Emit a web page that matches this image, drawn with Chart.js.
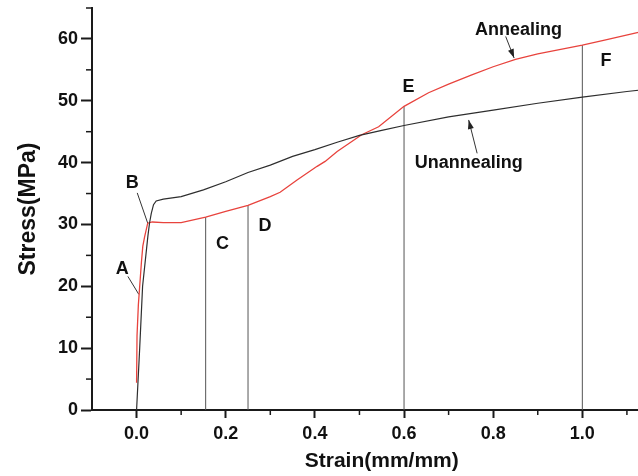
<!DOCTYPE html>
<html>
<head>
<meta charset="utf-8">
<script src="https://cdn.jsdelivr.net/npm/chart.js@4.4.1/dist/chart.umd.min.js"></script>
<style>
    html, body { margin: 0; padding: 0; background: #fff; overflow: hidden; }
    #wrap { width: 689px; height: 476px; }
</style>
</head>
<body>
<div id="wrap"><canvas id="stressChart" width="689" height="476"></canvas></div>
<script>
// ─── Data ────────────────────────────────────────────────
const unannealStrain = [0, 0.007, 0.0135, 0.0255, 0.029, 0.033, 0.038, 0.044, 0.06, 0.1, 0.15, 0.2, 0.25, 0.3, 0.35, 0.4, 0.45, 0.5, 0.55, 0.6, 0.7, 0.8, 0.9, 1.0, 1.1, 1.2];
const unannealStress = [0, 10, 20, 28.2, 30.2, 31.8, 33.2, 33.8, 34.1, 34.5, 35.6, 36.9, 38.4, 39.6, 41.0, 42.1, 43.3, 44.4, 45.2, 46.0, 47.4, 48.5, 49.6, 50.6, 51.5, 52.3];

const annealStrain = [0, 0.001, 0.004, 0.007, 0.011, 0.014, 0.018, 0.025, 0.035, 0.06, 0.1, 0.155, 0.2, 0.25, 0.3, 0.322, 0.36, 0.405, 0.423, 0.45, 0.505, 0.543, 0.6, 0.655, 0.7, 0.752, 0.8, 0.85, 0.9, 1.0, 1.05, 1.128, 1.2];
const annealStress = [4.4, 12, 17, 20, 24, 26.5, 28, 30.2, 30.4, 30.3, 30.3, 31.2, 32.1, 33.1, 34.5, 35.2, 37.2, 39.4, 40.2, 41.8, 44.5, 45.8, 49.1, 51.3, 52.7, 54.2, 55.5, 56.7, 57.6, 59.0, 59.8, 61.1, 62.2];

// vertical guide lines C, D, E, F
const guideStrain = [0.155, 0.25, 0.6, 1.0];
const guideStress = [31.2, 33.1, 49.1, 59.0];

// text labels
const labelText = ['A', 'B', 'C', 'D', 'E', 'F', 'Annealing', 'Unannealing'];
const labelStrain = [-0.032, -0.0097, 0.193, 0.288, 0.610, 1.053, 0.857, 0.745];
const labelStress = [22.8, 36.7, 26.8, 29.7, 52.3, 56.4, 61.5, 39.9];

// pointer lines (A, B) and arrows (Annealing, Unannealing)
const pointerFrom = [[-0.0195, 21.6], [0.0015, 35.1]];
const pointerTo = [[0.005, 18.7], [0.025, 30.2]];
const arrowFrom = [[0.828, 60.4], [0.764, 41.5]];
const arrowTo = [[0.847, 56.9], [0.745, 46.9]];

// axis ticks
const xTicks = [0, 0.2, 0.4, 0.6, 0.8, 1.0, 1.2];
const xMinor = [0.1, 0.3, 0.5, 0.7, 0.9, 1.1];
const yTicks = [0, 10, 20, 30, 40, 50, 60];
const yMinor = [5, 15, 25, 35, 45, 55, 65];

// ─── Style ───────────────────────────────────────────────
const FONT = "'Liberation Sans', Arial, Helvetica, sans-serif";
const axisColor = '#1a1a1a';
const blackLine = '#2e2e2e';
const redLine = '#e8433d';
const guideColor = '#555';

const toXY = (xs, ys) => xs.map((x, i) => ({ x: x, y: ys[i] }));

const datasets = [
    {
        label: 'Unannealing',
        data: toXY(unannealStrain, unannealStress),
        borderColor: blackLine,
        borderWidth: 1.2
    },
    {
        label: 'Annealing',
        data: toXY(annealStrain, annealStress),
        borderColor: redLine,
        borderWidth: 1.3
    }
];

guideStrain.forEach((s, i) => {
    datasets.push({
        label: 'guide' + i,
        data: [{ x: s, y: 0 }, { x: s, y: guideStress[i] }],
        borderColor: guideColor,
        borderWidth: 1
    });
});

pointerFrom.concat(arrowFrom).forEach((p, i) => {
    const q = pointerTo.concat(arrowTo)[i];
    datasets.push({
        label: 'pointer' + i,
        data: [{ x: p[0], y: p[1] }, { x: q[0], y: q[1] }],
        borderColor: '#333',
        borderWidth: 1
    });
});

// minor ticks, arrowheads and text labels
const extras = {
    id: 'extras',
    afterDraw(chart) {
        const { ctx, chartArea, scales: { x, y } } = chart;
        ctx.save();

        ctx.strokeStyle = axisColor;
        ctx.lineWidth = 1.5;
        xMinor.forEach(v => {
            const px = x.getPixelForValue(v);
            ctx.beginPath();
            ctx.moveTo(px, chartArea.bottom);
            ctx.lineTo(px, chartArea.bottom + 5);
            ctx.stroke();
        });
        yMinor.forEach(v => {
            const py = y.getPixelForValue(v);
            ctx.beginPath();
            ctx.moveTo(chartArea.left, py);
            ctx.lineTo(chartArea.left - 6, py);
            ctx.stroke();
        });

        // arrowheads
        ctx.fillStyle = '#222';
        arrowTo.forEach((t, i) => {
            const f = arrowFrom[i];
            const x1 = x.getPixelForValue(f[0]), y1 = y.getPixelForValue(f[1]);
            const x2 = x.getPixelForValue(t[0]), y2 = y.getPixelForValue(t[1]);
            const ang = Math.atan2(y2 - y1, x2 - x1);
            ctx.beginPath();
            ctx.moveTo(x2, y2);
            ctx.lineTo(x2 - 9 * Math.cos(ang) + 3 * Math.sin(ang), y2 - 9 * Math.sin(ang) - 3 * Math.cos(ang));
            ctx.lineTo(x2 - 9 * Math.cos(ang) - 3 * Math.sin(ang), y2 - 9 * Math.sin(ang) + 3 * Math.cos(ang));
            ctx.closePath();
            ctx.fill();
        });

        // labels
        ctx.fillStyle = '#111';
        ctx.font = 'bold 18px ' + FONT;
        ctx.textAlign = 'center';
        ctx.textBaseline = 'middle';
        labelText.forEach((t, i) => {
            ctx.fillText(t, x.getPixelForValue(labelStrain[i]), y.getPixelForValue(labelStress[i]));
        });

        ctx.restore();
    }
};

new Chart(document.getElementById('stressChart'), {
    type: 'line',
    data: { datasets: datasets },
    options: {
        responsive: false,
        animation: false,
        layout: { padding: { top: 8, right: 10, left: 0, bottom: 0 } },
        elements: { point: { radius: 0 }, line: { tension: 0 } },
        plugins: { legend: { display: false }, tooltip: { enabled: false } },
        scales: {
            x: {
                type: 'linear',
                min: -0.1,
                max: 1.2,
                afterBuildTicks: (scale) => { scale.ticks = xTicks.map(v => ({ value: v })); },
                afterFit: (scale) => { scale.height = 66; },
                border: { display: true, color: axisColor, width: 2 },
                grid: { drawOnChartArea: false, drawTicks: true, tickLength: 8, tickWidth: 2, tickColor: axisColor },
                ticks: {
                    padding: 5,
                    color: '#111',
                    font: { family: FONT, size: 18, weight: 'bold' },
                    callback: (v) => v.toFixed(1)
                },
                title: {
                    display: true,
                    text: 'Strain(mm/mm)',
                    color: '#111',
                    font: { family: FONT, size: 21, weight: 'bold' },
                    padding: { top: 0, bottom: 2 }
                }
            },
            y: {
                type: 'linear',
                min: 0,
                max: 65,
                afterBuildTicks: (scale) => { scale.ticks = yTicks.map(v => ({ value: v })); },
                afterFit: (scale) => {
                    scale.width = 92;
                    scale.paddingTop = 0;
                    scale.paddingBottom = 0;
                },
                border: { display: true, color: axisColor, width: 2 },
                grid: { drawOnChartArea: false, drawTicks: true, tickLength: 11, tickWidth: 2, tickColor: axisColor },
                ticks: {
                    padding: 3,
                    color: '#111',
                    font: { family: FONT, size: 18, weight: 'bold' },
                    callback: (v) => String(v)
                },
                title: {
                    display: true,
                    text: 'Stress(MPa)',
                    color: '#111',
                    font: { family: FONT, size: 23, weight: 'bold' },
                    padding: { top: 15, bottom: 0 }
                }
            }
        }
    },
    plugins: [extras]
});
</script>
</body>
</html>
